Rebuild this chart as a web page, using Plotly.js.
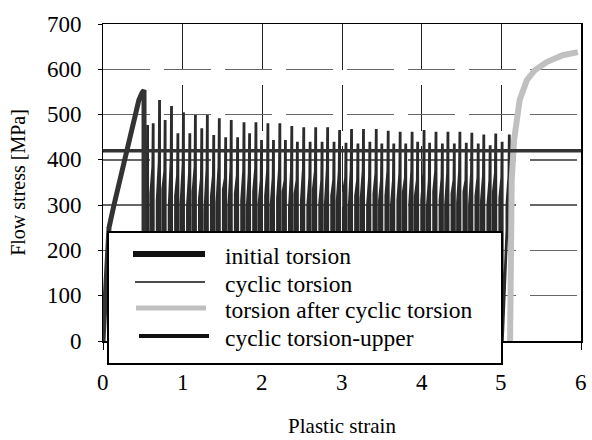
<!DOCTYPE html>
<html><head><meta charset="utf-8">
<script src="https://cdn.plot.ly/plotly-3.0.1.min.js"></script>
<style>html,body{margin:0;padding:0;background:#fff}#chart{width:592px;height:440px}</style>
</head><body><div id="chart"></div>
<script>
// ---------- data ----------
const seriesNames = ["initial torsion", "cyclic torsion", "torsion after cyclic torsion", "cyclic torsion-upper"];

const initStrain = [0, 0.02, 0.04, 0.06, 0.075, 0.135, 0.19, 0.26, 0.32, 0.385, 0.45, 0.49, 0.515, 0.515];
const initStress = [0, 60, 130, 200, 250, 298, 340, 391, 438, 488, 532, 548, 554, 0];

const cycStart = [0.53,0.60,0.68,0.75,0.83,0.91,0.98,1.06,1.13,1.21,
  1.28,1.36,1.43,1.51,1.58,1.66,1.74,1.81,1.89,1.96,
  2.04,2.11,2.19,2.26,2.34,2.41,2.49,2.57,2.64,2.72,
  2.79,2.87,2.94,3.02,3.09,3.17,3.24,3.32,3.40,3.47,
  3.55,3.62,3.70,3.77,3.85,3.92,4.00,4.07,4.15,4.23,
  4.30,4.38,4.45,4.53,4.60,4.68,4.75,4.83,4.90,4.98,5.07];
const cycBase = [0,0,0,0,0,0,0,0,0,0, 0,0,0,0,0,0,0,0,0,0, 0,0,0,0,0,0,0,0,0,0,
  0,0,0,0,0,0,0,0,0,0, 0,0,0,0,0,0,0,0,0,0, 0,0,0,0,0,0,0,0,0,0, 245];
const cycKnee = [300,325,310,335,295,320,305,300,330,315,
  290,320,305,335,300,325,310,295,330,305,
  320,300,315,330,295,325,310,300,335,305,
  300,320,310,330,295,320,315,300,325,310,
  320,300,310,330,305,320,310,295,330,310,
  300,325,305,330,300,320,310,300,330,315, 300];
const cycMid = [370,385,395,375,400,365,390,370,385,360,
  380,365,385,360,380,365,375,370,380,355,
  375,360,380,355,375,355,380,360,375,355,
  380,355,375,360,380,355,375,360,370,355,
  375,355,370,360,375,355,370,355,375,360,
  370,355,375,355,370,360,365,355,370,360, 365];
const cycPeak = [477,481,532,488,519,459,505,459,499,470,
  499,455,492,450,488,450,483,459,483,444,
  481,444,481,444,475,440,472,440,472,440,
  472,440,466,438,468,436,468,440,468,436,
  464,436,462,436,462,440,466,438,462,436,
  462,436,462,438,460,436,456,432,458,440, 456];

const afterStrain = [5.11, 5.12, 5.12, 5.13, 5.16, 5.19, 5.23, 5.32, 5.42, 5.57, 5.77, 5.96];
const afterStress = [0, 120, 238, 355, 444, 494, 532, 576, 598, 616, 631, 638];

const upperStrain = [0, 6];
const upperStress = [420, 420];

const xTickVals = [0, 1, 2, 3, 4, 5, 6];
const yTickVals = [0, 100, 200, 300, 400, 500, 600, 700];

// ---------- build cyclic path from per-cycle values ----------
const cycX = [], cycY = [];
for (let i = 0; i < cycStart.length; i++) {
  const s = cycStart[i];
  cycX.push(s, s, s + 0.025, s + 0.03, s + 0.033);
  cycY.push(cycBase[i], cycKnee[i], cycMid[i], cycPeak[i], 0);
}

// ---------- layout helpers ----------
const W = 592, H = 440, ML = 103, MR = 11, MT = 24, MB = 99;
const PW = W - ML - MR, PH = H - MT - MB;
const fx = px => (px - ML) / PW;
const fy = py => (H - MB - py) / PH;
const serif = 'Liberation Serif';
const tickFont = {family: serif, size: 23, color: '#000'};

const legendStyles = [
  {color: '#111', width: 6, x0: 133, x1: 205, y: 254},
  {color: '#111', width: 1.5, x0: 135, x1: 205, y: 282},
  {color: '#c0c0c0', width: 5, x0: 136, x1: 206, y: 308},
  {color: '#111', width: 4, x0: 139, x1: 209, y: 336}
];
const textRows = [256, 284, 310, 338];

const shapes = [{
  type: 'rect', xref: 'paper', yref: 'paper',
  x0: fx(108), x1: fx(502), y0: fy(364), y1: fy(232),
  line: {color: '#000', width: 2}, fillcolor: '#fff', layer: 'above'
}];
const annotations = [];
seriesNames.forEach((name, i) => {
  const st = legendStyles[i];
  shapes.push({type: 'line', xref: 'paper', yref: 'paper',
    x0: fx(st.x0), x1: fx(st.x1), y0: fy(st.y), y1: fy(st.y),
    line: {color: st.color, width: st.width}, layer: 'above'});
  annotations.push({xref: 'paper', yref: 'paper', x: fx(223), y: fy(textRows[i]),
    xanchor: 'left', yanchor: 'middle', showarrow: false, text: name,
    font: {family: serif, size: 23.5, color: '#000'}});
});
// tick labels placed through the axes' own scales
xTickVals.forEach(v => annotations.push({xref: 'x', yref: 'paper', x: v, y: fy(382),
  xanchor: 'center', yanchor: 'middle', showarrow: false, text: String(v), font: tickFont}));
yTickVals.forEach(v => annotations.push({xref: 'paper', yref: 'y', x: fx(84), y: v,
  xanchor: 'right', yanchor: 'middle', showarrow: false, text: String(v), font: tickFont}));

const traces = [
  {x: cycX, y: cycY, name: seriesNames[1], mode: 'lines', line: {color: '#2b2b2b', width: 2.8}},
  {x: initStrain, y: initStress, name: seriesNames[0], mode: 'lines', line: {color: '#333', width: 5}},
  {x: afterStrain, y: afterStress, name: seriesNames[2], mode: 'lines', line: {color: '#c0c0c0', width: 6}},
  {x: upperStrain, y: upperStress, name: seriesNames[3], mode: 'lines', line: {color: '#333', width: 3.5}}
];

const layout = {
  width: W, height: H,
  margin: {l: ML, r: MR, t: MT, b: MB, pad: 0},
  paper_bgcolor: '#fff', plot_bgcolor: '#fff',
  showlegend: false,
  font: {family: serif, color: '#000', size: 20},
  xaxis: {
    range: [0, 6], tickmode: 'array', tickvals: xTickVals, showticklabels: false,
    showline: true, linecolor: '#000', linewidth: 1.5, mirror: true,
    ticks: 'outside', ticklen: 7, tickcolor: '#000', tickwidth: 1,
    showgrid: true, gridcolor: '#222', gridwidth: 1, griddash: '46px,15px',
    zeroline: false, automargin: false,
    title: {text: 'Plastic strain', font: {family: serif, size: 21}, standoff: 70}
  },
  yaxis: {
    range: [0, 700], tickmode: 'array', tickvals: yTickVals, showticklabels: false,
    showline: true, linecolor: '#000', linewidth: 1.5, mirror: true,
    ticks: 'outside', ticklen: 4, tickcolor: '#000', tickwidth: 1,
    showgrid: true, gridcolor: '#666', gridwidth: 1.5, griddash: '47px,14px',
    zeroline: false, automargin: false,
    title: {text: 'Flow stress [MPa]', font: {family: serif, size: 20}, standoff: 66}
  },
  shapes: shapes,
  annotations: annotations
};

Plotly.newPlot('chart', traces, layout, {staticPlot: true, displayModeBar: false});
</script>
</body></html>
